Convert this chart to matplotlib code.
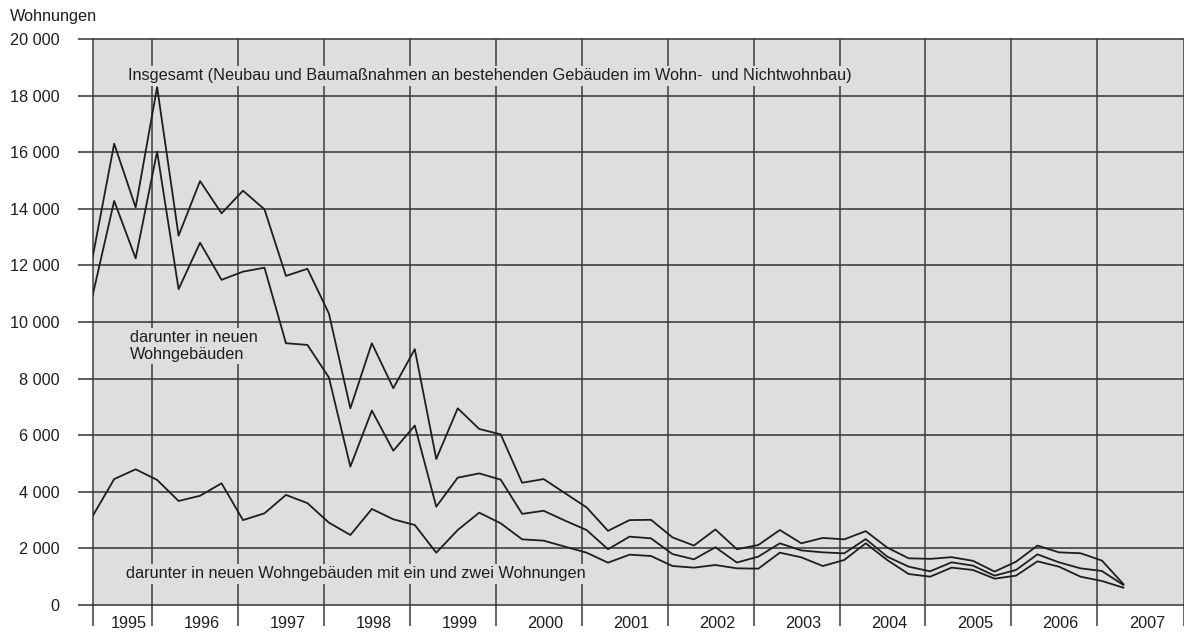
import numpy as np
import matplotlib.pyplot as plt

plt.rcParams['font.family'] = ['Liberation Sans', 'DejaVu Sans']

# quarterly values, 1995 to 2007
insgesamt = [12300, 16300, 14050, 18300, 13050, 14980, 13840, 14640, 13980, 11630,
             11880, 10300, 6950, 9250, 7660, 9040, 5160, 6950, 6220, 6030,
             4320, 4450, 3950, 3450, 2620, 3000, 3010, 2390, 2100, 2670,
             1970, 2120, 2650, 2180, 2370, 2320, 2610, 2030, 1650, 1630,
             1690, 1560, 1180, 1530, 2100, 1860, 1830, 1570, 740]
neue_wohngebaeude = [10950, 14280, 12250, 16020, 11160, 12800, 11490, 11780, 11920, 9250,
                     9190, 8040, 4890, 6870, 5450, 6340, 3475, 4500, 4650, 4430,
                     3220, 3330, 2980, 2650, 1970, 2415, 2356, 1800, 1614, 2040,
                     1500, 1710, 2180, 1930, 1860, 1826, 2330, 1710, 1355, 1190,
                     1508, 1390, 1037, 1237, 1790, 1508, 1296, 1202, 707]
ein_zwei_wohnungen = [3145, 4450, 4795, 4420, 3675, 3860, 4300, 3000, 3240, 3890,
                      3600, 2910, 2474, 3393, 3028, 2827, 1848, 2650, 3262, 2887,
                      2320, 2274, 2061, 1849, 1496, 1778, 1732, 1378, 1320, 1413,
                      1296, 1284, 1849, 1685, 1378, 1590, 2180, 1590, 1095, 1001,
                      1320, 1237, 931, 1037, 1543, 1355, 1001, 848, 612]
years = [str(y) for y in range(1995, 2008)]
y_ticks = list(range(0, 20001, 2000))

bg = '#dddee0'
ink = '#1e1e1e'
grid_col = '#333333'
fs = 11.7

fig = plt.figure(figsize=(11.84, 6.33), dpi=100)
ax = fig.add_axes([92.7 / 1184, 28 / 633, (1183.5 - 92.7) / 1184, 566 / 633])
ax.set_facecolor(bg)
for s in ax.spines.values():
    s.set_visible(False)

x = np.arange(len(insgesamt))
x_end = 50.8
# year separators
edges = np.concatenate([[0], 2.78 + 4 * np.arange(len(years) - 1), [x_end]])
centers = (edges[:-1] + edges[1:]) / 2 + 0.3

ax.set_xlim(0, x_end)
ax.set_ylim(0, 20000)

for yv in y_ticks:
    ax.axhline(yv, color=grid_col, lw=1.1, zorder=1, clip_on=False)
for xv in edges:
    ax.axvline(xv, color='#3c3c3c', lw=1.1, zorder=1, clip_on=False)

ax.plot(x, insgesamt, color=ink, lw=1.3, zorder=3)
ax.plot(x, neue_wohngebaeude, color=ink, lw=1.3, zorder=3)
ax.plot(x, ein_zwei_wohnungen, color=ink, lw=1.3, zorder=3)

ax.set_yticks(y_ticks)
ax.set_yticklabels([f"{v:,}".replace(',', ' ') for v in y_ticks])
ax.tick_params(axis='y', length=10.8, width=1.1, color=grid_col, pad=13,
               labelsize=fs, labelcolor=ink)

ax.set_xticks(edges)
ax.set_xticklabels([])
ax.tick_params(axis='x', which='major', length=15, width=1.1, color='#3c3c3c')
ax.set_xticks(centers, minor=True)
ax.set_xticklabels(years, minor=True)
ax.tick_params(axis='x', which='minor', length=0, pad=8, labelsize=fs, labelcolor=ink)

box = dict(facecolor=bg, edgecolor='none', pad=2)
ax.text(1.63, 18700, 'Insgesamt (Neubau und Baumaßnahmen an bestehenden Gebäuden im Wohn-  und Nichtwohnbau)',
        fontsize=fs, color=ink, va='center', ha='left', bbox=box, zorder=2)
ax.text(1.74, 9150, 'darunter in neuen\nWohngebäuden', fontsize=fs, color=ink,
        va='center', ha='left', linespacing=1.1, bbox=box, zorder=2)
ax.text(1.56, 1100, 'darunter in neuen Wohngebäuden mit ein und zwei Wohnungen',
        fontsize=fs, color=ink, va='center', ha='left', bbox=box, zorder=2)

fig.text(10 / 1184, 1 - 17 / 633, 'Wohnungen', fontsize=fs, color=ink, va='center', ha='left')

fig.savefig('out.png', dpi=100, facecolor='white')
